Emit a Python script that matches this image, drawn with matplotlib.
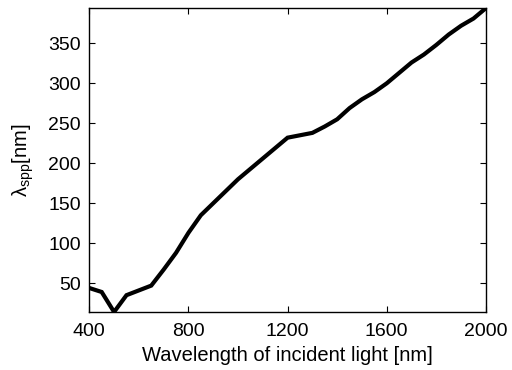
import matplotlib
matplotlib.use("Agg")
import matplotlib.pyplot as plt
import numpy as np

wavelength = [400, 450, 500, 550, 600, 650, 700, 750, 800, 850, 900, 950, 1000,
              1050, 1100, 1150, 1200, 1250, 1300, 1350, 1400, 1450, 1500, 1550,
              1600, 1650, 1700, 1750, 1800, 1850, 1900, 1950, 2000]
lambda_spp = [44, 39, 14, 35, 41, 47, 67, 88, 113, 135, 150, 165, 180,
              193, 206, 219, 232, 235, 238, 246, 255, 269, 280, 289,
              300, 313, 326, 336, 348, 361, 372, 381, 394]
xticks = [400, 800, 1200, 1600, 2000]
yticks = [50, 100, 150, 200, 250, 300, 350]

plt.rcParams['font.family'] = ['Liberation Sans', 'DejaVu Sans']
plt.rcParams['mathtext.fontset'] = 'custom'
plt.rcParams['mathtext.rm'] = 'Liberation Sans'
plt.rcParams['mathtext.it'] = 'Liberation Sans:italic'

fig = plt.figure(figsize=(5.12, 3.70), dpi=100)
ax = fig.add_axes([0.1744, 0.1568, 0.949 - 0.1744, 0.978 - 0.1568])
ax.plot(wavelength, lambda_spp, color='black', lw=3.0, solid_joinstyle='miter')
ax.set_xlim(min(wavelength), max(wavelength))
ax.set_ylim(min(lambda_spp), max(lambda_spp))
ax.set_xticks(xticks)
ax.set_yticks(yticks)
ax.tick_params(direction='in', top=True, right=True, length=4, width=0.8,
               labelsize=14, pad=6)
ax.tick_params(axis='x', pad=8)
for s in ax.spines.values():
    s.set_linewidth(1.0)
ax.set_xlabel('Wavelength of incident light [nm]', fontsize=14.5, labelpad=4)
ax.set_ylabel('λ$_{\\rm spp}$[nm]', fontsize=14.5, labelpad=9)
fig.savefig('out.png', dpi=100)
